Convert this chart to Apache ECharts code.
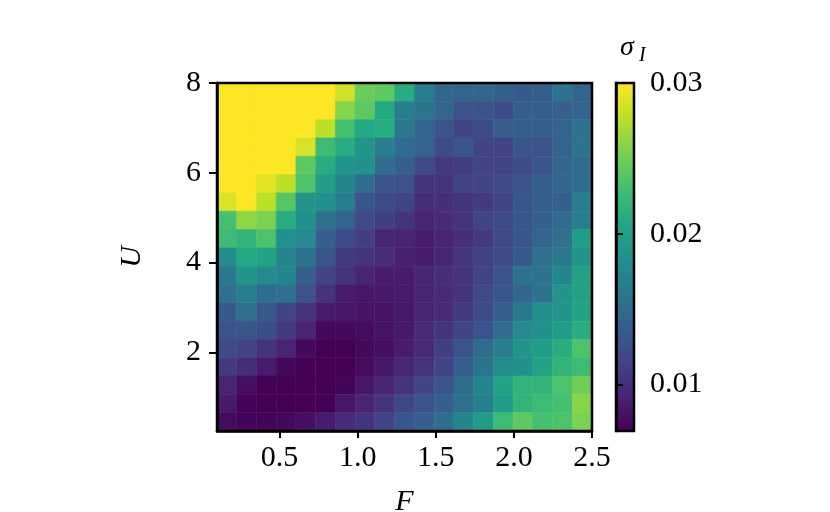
<!DOCTYPE html>
<html>
<head>
<meta charset="utf-8">
<script src="https://cdn.jsdelivr.net/npm/echarts@6/dist/echarts.min.js"></script>
<style>
  html, body { margin: 0; padding: 0; background: #fff; }
  #main { width: 830px; height: 512px; }
</style>
</head>
<body>
<div id="main"></div>
<script>
// F (x) cell centres, left to right
var F = [0.163, 0.289, 0.416, 0.542, 0.668, 0.795, 0.921, 1.047, 1.174, 1.300,
         1.426, 1.553, 1.679, 1.805, 1.932, 2.058, 2.184, 2.311, 2.437];
// U (y) cell centres, top row first
var U = [7.796, 7.388, 6.980, 6.572, 6.164, 5.757, 5.349, 4.941, 4.533, 4.125,
         3.717, 3.309, 2.901, 2.493, 2.086, 1.678, 1.270, 0.862, 0.454];
// sigma_I, one row per U value (same order as U)
var sigma = [
  [.0300,.0300,.0300,.0300,.0300,.0300,.0284,.0247,.0242,.0212,.0166,.0145,.0143,.0145,.0138,.0134,.0138,.0157,.0143],
  [.0300,.0300,.0300,.0300,.0300,.0300,.0258,.0242,.0208,.0166,.0157,.0145,.0127,.0127,.0124,.0138,.0138,.0138,.0143],
  [.0300,.0300,.0300,.0300,.0300,.0277,.0231,.0208,.0212,.0161,.0145,.0131,.0115,.0122,.0138,.0138,.0138,.0143,.0157],
  [.0300,.0300,.0300,.0300,.0286,.0226,.0212,.0189,.0166,.0150,.0143,.0120,.0131,.0115,.0115,.0131,.0127,.0143,.0157],
  [.0300,.0300,.0300,.0300,.0242,.0212,.0189,.0185,.0150,.0138,.0120,.0108,.0111,.0115,.0115,.0122,.0131,.0145,.0150],
  [.0300,.0300,.0291,.0277,.0235,.0196,.0173,.0150,.0127,.0127,.0104,.0104,.0115,.0115,.0120,.0127,.0138,.0145,.0150],
  [.0288,.0300,.0277,.0238,.0189,.0185,.0166,.0131,.0120,.0115,.0099,.0099,.0104,.0108,.0115,.0131,.0138,.0138,.0166],
  [.0231,.0261,.0254,.0212,.0185,.0154,.0143,.0120,.0111,.0104,.0092,.0097,.0104,.0115,.0120,.0131,.0138,.0150,.0166],
  [.0226,.0219,.0235,.0185,.0178,.0138,.0120,.0111,.0092,.0092,.0087,.0092,.0099,.0108,.0120,.0131,.0143,.0154,.0196],
  [.0180,.0208,.0203,.0173,.0157,.0131,.0108,.0104,.0099,.0090,.0087,.0092,.0106,.0113,.0120,.0134,.0154,.0161,.0189],
  [.0161,.0189,.0178,.0173,.0138,.0115,.0104,.0092,.0087,.0087,.0092,.0099,.0104,.0115,.0127,.0157,.0157,.0173,.0201],
  [.0154,.0168,.0150,.0154,.0127,.0104,.0087,.0083,.0085,.0087,.0092,.0097,.0104,.0120,.0131,.0145,.0157,.0189,.0201],
  [.0134,.0154,.0134,.0115,.0104,.0087,.0083,.0081,.0081,.0085,.0092,.0097,.0108,.0122,.0138,.0161,.0185,.0189,.0203],
  [.0127,.0131,.0124,.0108,.0092,.0074,.0074,.0076,.0081,.0085,.0097,.0104,.0115,.0127,.0150,.0178,.0185,.0196,.0212],
  [.0120,.0115,.0104,.0092,.0074,.0069,.0069,.0074,.0078,.0087,.0097,.0111,.0127,.0150,.0166,.0189,.0196,.0212,.0235],
  [.0108,.0099,.0087,.0074,.0069,.0069,.0069,.0076,.0083,.0094,.0104,.0115,.0138,.0157,.0180,.0185,.0203,.0219,.0226],
  [.0092,.0078,.0069,.0069,.0069,.0069,.0071,.0083,.0092,.0104,.0115,.0127,.0150,.0173,.0203,.0219,.0219,.0235,.0249],
  [.0085,.0071,.0069,.0069,.0069,.0069,.0083,.0092,.0104,.0118,.0127,.0138,.0154,.0168,.0196,.0219,.0226,.0231,.0258],
  [.0076,.0071,.0071,.0074,.0078,.0087,.0097,.0104,.0115,.0131,.0138,.0150,.0173,.0196,.0226,.0242,.0231,.0235,.0254]
];
var xTicks = [0.5, 1.0, 1.5, 2.0, 2.5];
var yTicks = [2, 4, 6, 8];
var cbTicks = [0.01, 0.02, 0.03];
var cbMin = 0.0069, cbMax = 0.03;
var viridis = ['#440154', '#482475', '#414487', '#355f8d', '#2a788e', '#21918c',
               '#22a884', '#44bf70', '#7ad151', '#bddf26', '#fde725'];

(function () {
    var myChart = echarts.init(document.getElementById('main'));
    var font = 'Liberation Serif';

    var cells = [];
    for (var r = 0; r < U.length; r++) {
        for (var c = 0; c < F.length; c++) {
            cells.push([F[c], U[r], sigma[r][c]]);
        }
    }
    var dF = F[1] - F[0];
    var dU = U[0] - U[1];

    var stops = viridis.map(function (col, i) {
        return { offset: i / (viridis.length - 1), color: col };
    });

    var labelStyle = { color: '#000', fontFamily: font, fontSize: 30 };

    var option = {
        animation: false,
        grid: [
            { left: 217, top: 83, width: 375, height: 348, show: true, z: 10, outerBoundsMode: 'none',
              backgroundColor: 'transparent', borderColor: '#000', borderWidth: 2.5 },
            { left: 616, top: 83, width: 18, height: 348, show: true, z: 10, outerBoundsMode: 'none',
              backgroundColor: 'transparent', borderColor: '#000', borderWidth: 2.5 }
        ],
        visualMap: {
            type: 'continuous', show: false, seriesIndex: 0, dimension: 2,
            min: cbMin, max: cbMax,
            inRange: { color: viridis }
        },
        xAxis: [
            {
                type: 'value', gridIndex: 0, min: 0.1, max: 2.5, z: 11,
                axisLine: { show: true, lineStyle: { color: '#000', width: 2.5 } },
                axisTick: { show: true, length: 7, customValues: xTicks, lineStyle: { color: '#000', width: 2 } },
                axisLabel: Object.assign({ customValues: xTicks, margin: 12,
                    formatter: function (v) { return v.toFixed(1); } }, labelStyle),
                splitLine: { show: false },
                name: 'F', nameLocation: 'middle', nameGap: 56,
                nameTextStyle: { color: '#000', fontFamily: font, fontSize: 30, fontStyle: 'italic' }
            },
            { type: 'value', gridIndex: 1, min: 0, max: 1, show: false }
        ],
        yAxis: [
            {
                type: 'value', gridIndex: 0, min: 0.25, max: 8, z: 11,
                axisLine: { show: true, lineStyle: { color: '#000', width: 2.5 } },
                axisTick: { show: true, length: 8, customValues: yTicks, lineStyle: { color: '#000', width: 2 } },
                axisLabel: Object.assign({ customValues: yTicks, margin: 16 }, labelStyle),
                splitLine: { show: false },
                name: 'U', nameLocation: 'middle', nameGap: 70,
                nameTextStyle: { color: '#000', fontFamily: font, fontSize: 30, fontStyle: 'italic' }
            },
            {
                type: 'value', gridIndex: 1, position: 'right', min: cbMin, max: cbMax, z: 11,
                axisLine: { show: true, lineStyle: { color: '#000', width: 2.5 } },
                axisTick: { show: true, length: 7, customValues: cbTicks, lineStyle: { color: '#000', width: 2 } },
                axisLabel: Object.assign({ customValues: cbTicks, margin: 16,
                    formatter: function (v) { return v.toFixed(2); } }, labelStyle),
                splitLine: { show: false }
            }
        ],
        graphic: [
            { type: 'text', left: 620, top: 34,
              style: { text: 'σ', fill: '#000', font: 'italic 28px "Liberation Serif"' } },
            { type: 'text', left: 639, top: 46,
              style: { text: 'I', fill: '#000', font: 'italic 20px "Liberation Serif"' } }
        ],
        series: [
            {
                type: 'custom', xAxisIndex: 0, yAxisIndex: 0, clip: true,
                data: cells,
                renderItem: function (params, api) {
                    var x = api.value(0), y = api.value(1);
                    var p0 = api.coord([x - dF / 2, y + dU / 2]);
                    var p1 = api.coord([x + dF / 2, y - dU / 2]);
                    var col = api.visual('color');
                    return {
                        type: 'rect',
                        shape: { x: p0[0], y: p0[1], width: p1[0] - p0[0], height: p1[1] - p0[1] },
                        style: { fill: col, stroke: col, lineWidth: 0.6 }
                    };
                }
            },
            {
                // colour bar
                type: 'custom', xAxisIndex: 1, yAxisIndex: 1, clip: true,
                data: [[0.5, cbMax]],
                renderItem: function (params, api) {
                    var p0 = api.coord([0, cbMax]);
                    var p1 = api.coord([1, cbMin]);
                    return {
                        type: 'rect',
                        shape: { x: p0[0], y: p0[1], width: p1[0] - p0[0], height: p1[1] - p0[1] },
                        style: { fill: new echarts.graphic.LinearGradient(0, 1, 0, 0, stops) }
                    };
                }
            }
        ]
    };

    myChart.setOption(option);
})();
</script>
</body>
</html>
